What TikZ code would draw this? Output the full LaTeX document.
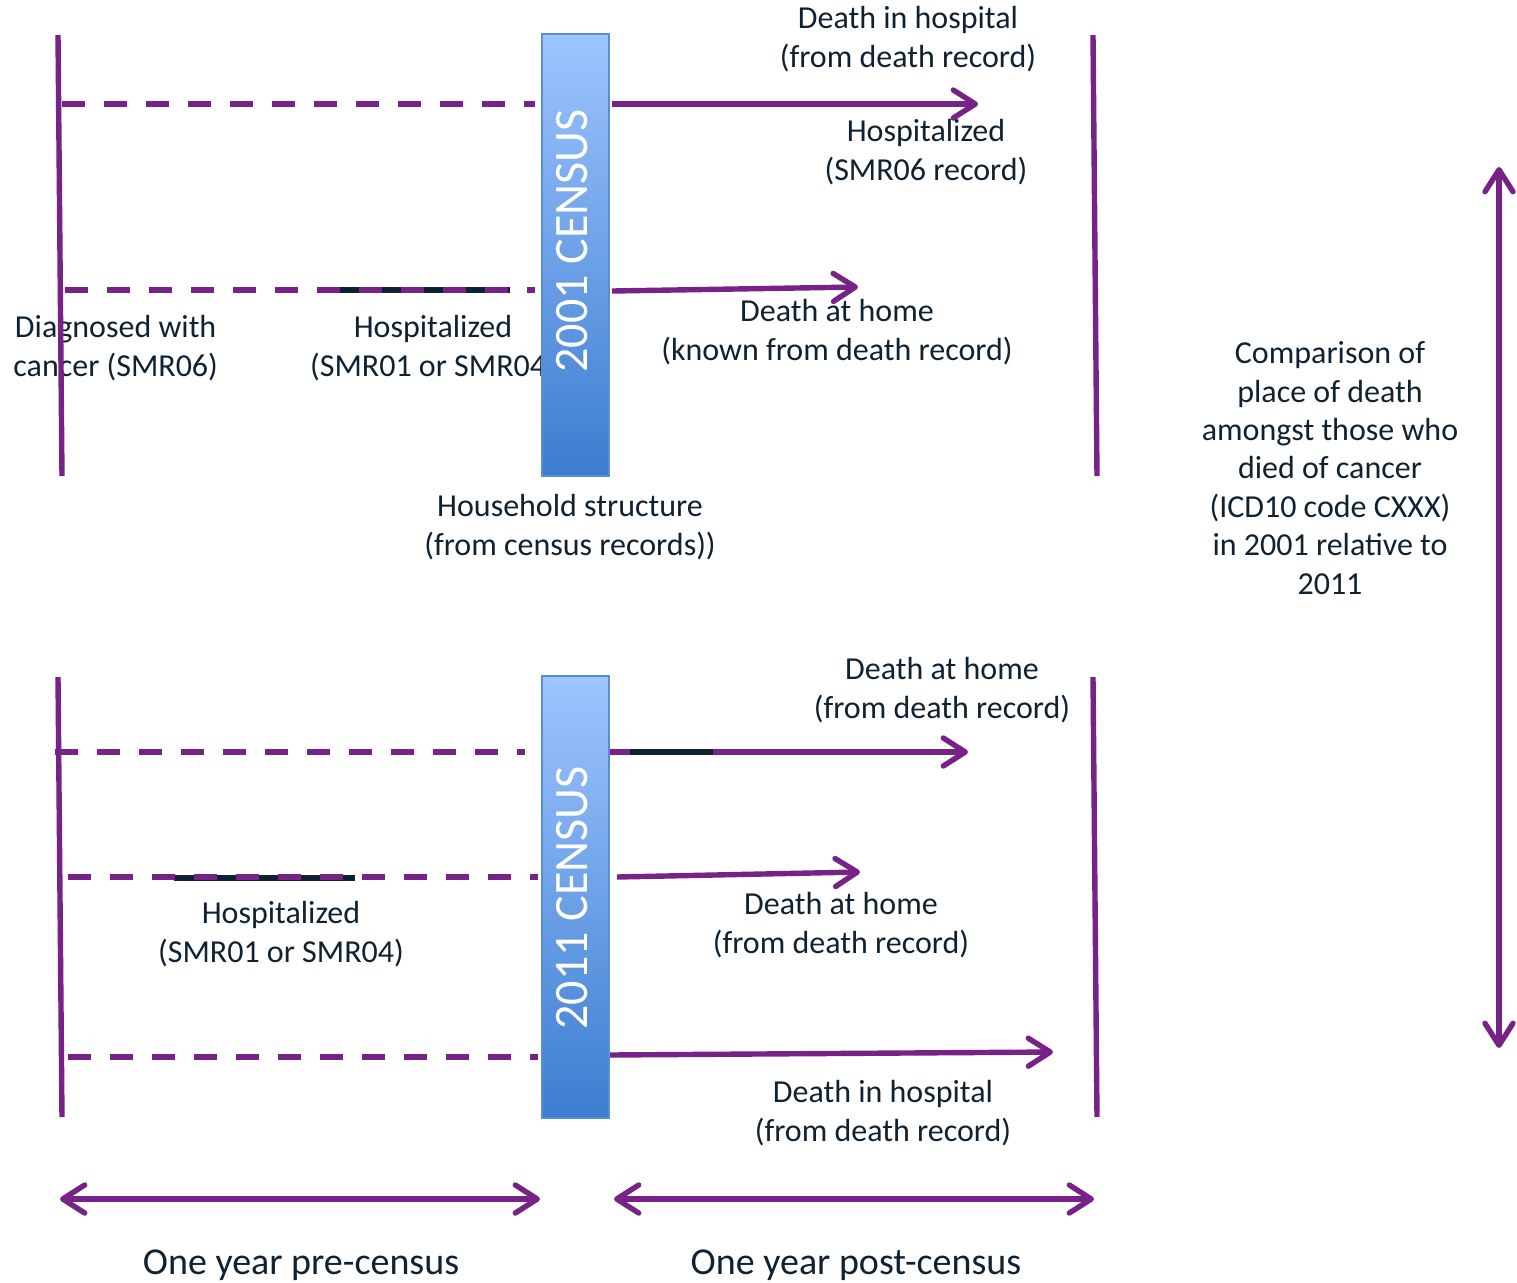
\documentclass[tikz,border=0pt]{standalone}
\usepackage{fontspec}
\setmainfont{Carlito}
\usetikzlibrary{arrows.meta}
\definecolor{pur}{HTML}{762286}
\definecolor{txt}{HTML}{0E2233}
\definecolor{bartop}{HTML}{9EC5FF}
\definecolor{barbot}{HTML}{3C7DD0}
\definecolor{barline}{HTML}{5B8ED0}
\tikzset{
  lbl/.style={text=txt, align=center, inner sep=0pt, font=\fontsize{16}{19.2}\selectfont},
  biglbl/.style={text=txt, align=center, inner sep=0pt, font=\fontsize{19}{23}\selectfont},
  vline/.style={pur, line width=2.7pt},
  dline/.style={pur, line width=2.9pt, dash pattern=on 11.5pt off 9.5pt},
  darkseg/.style={txt, line width=2.9pt},
  arr/.style={pur, line width=2.7pt, -{Straight Barb[length=11pt,width=14pt,round]}},
  darr/.style={pur, line width=2.7pt, {Straight Barb[length=11pt,width=14pt,round]}-{Straight Barb[length=11pt,width=14pt,round]}},
  censusbar/.style={rectangle, draw=barline, line width=0.6pt, top color=bartop, bottom color=barbot, minimum width=33.5pt, minimum height=221pt, inner sep=0pt},
  censustxt/.style={text=white, rotate=90, inner sep=0pt, font=\fontsize{24}{29}\selectfont},
}
\begin{document}
\begin{tikzpicture}[x=0.5pt,y=-0.5pt]
\useasboundingbox (0,0) rectangle (1517,1282);
% ---------- texts ----------
\node[lbl] (t1) at (908,39) {Death in hospital\\(from death record)};
\node[lbl] (t2) at (926,152) {Hospitalized\\(SMR06 record)};
\node[lbl] (t3) at (837,332) {Death at home\\(known from death record)};
\node[lbl, anchor=west] (t4) at (13,348) {Diagnosed with\\cancer (SMR06)};
\node[lbl] (t5) at (433,348) {Hospitalized\\(SMR01 or SMR04)};
\node[lbl] (t6) at (570,527) {Household structure\\(from census records))};
\node[lbl] (b1) at (942,690) {Death at home\\(from death record)};
\node[lbl] (b2) at (281,934) {Hospitalized\\(SMR01 or SMR04)};
\node[lbl] (b3) at (841,925) {Death at home\\(from death record)};
\node[lbl] (b4) at (883,1113) {Death in hospital\\(from death record)};
\node[lbl] (cmp) at (1330,468) {Comparison of\\place of death\\amongst those who\\died of cancer\\(ICD10 code CXXX)\\in 2001 relative to\\2011};
\node[biglbl] (pre) at (301,1265) {One year pre-census};
\node[biglbl] (post) at (856,1265) {One year post-census};
% ---------- coordinates ----------
\coordinate (L1t) at (58,35);   \coordinate (L1b) at (62,476);
\coordinate (R1t) at (1093,35); \coordinate (R1b) at (1097,476);
\coordinate (L2t) at (58,677);  \coordinate (L2b) at (62,1117);
\coordinate (R2t) at (1093,677);\coordinate (R2b) at (1097,1117);
\coordinate (d1s) at (62,104);  \coordinate (d1e) at (535,104);
\coordinate (a1s) at (612,104); \coordinate (a1e) at (978,104);
\coordinate (d2s) at (65,290);  \coordinate (d2e) at (535,290);
\coordinate (k2s) at (336,290); \coordinate (k2e) at (510,290);
\coordinate (a2s) at (612,291); \coordinate (a2e) at (858,287);
\coordinate (d3s) at (55,752);  \coordinate (d3e) at (525,752);
\coordinate (a3s) at (605,752); \coordinate (a3e) at (968,752);
\coordinate (k3s) at (630,752); \coordinate (k3e) at (713,752);
\coordinate (d4s) at (68,877);  \coordinate (d4e) at (538,877);
\coordinate (k4s) at (174,878); \coordinate (k4e) at (355,878);
\coordinate (a4s) at (617,877); \coordinate (a4e) at (860,872);
\coordinate (d5s) at (68,1057); \coordinate (d5e) at (538,1057);
\coordinate (a5s) at (609,1055);\coordinate (a5e) at (1053,1052);
\coordinate (vt) at (1499,167); \coordinate (vb) at (1499,1048);
\coordinate (p1a) at (60,1199); \coordinate (p1b) at (540,1199);
\coordinate (p2a) at (614,1199); \coordinate (p2b) at (1094,1199);
% ---------- lines ----------
\draw[vline] (L1t) -- (L1b);
\draw[vline] (R1t) -- (R1b);
\draw[vline] (L2t) -- (L2b);
\draw[vline] (R2t) -- (R2b);
\draw[darkseg] (k2s) -- (k2e);
\draw[darkseg] (k4s) -- (k4e);
\draw[dline] (d1s) -- (d1e);
\draw[dline] (d2s) -- (d2e);
\draw[dline] (d3s) -- (d3e);
\draw[dline] (d4s) -- (d4e);
\draw[dline] (d5s) -- (d5e);
\draw[arr] (a1s) -- (a1e);
\draw[arr] (a2s) -- (a2e);
\draw[arr] (a3s) -- (a3e);
\draw[darkseg] (k3s) -- (k3e);
\draw[arr] (a4s) -- (a4e);
\draw[arr] (a5s) -- (a5e);
\draw[darr] (vt) -- (vb);
\draw[darr] (p1a) -- (p1b);
\draw[darr] (p2a) -- (p2b);
% ---------- census bars ----------
\node[censusbar] (c1) at (575.5,255) {};
\node[censusbar] (c2) at (575.5,897) {};
\node[censustxt] (c1t) at (572,241) {2001 CENSUS};
\node[censustxt] (c2t) at (572,898) {2011 CENSUS};
\end{tikzpicture}
\end{document}
